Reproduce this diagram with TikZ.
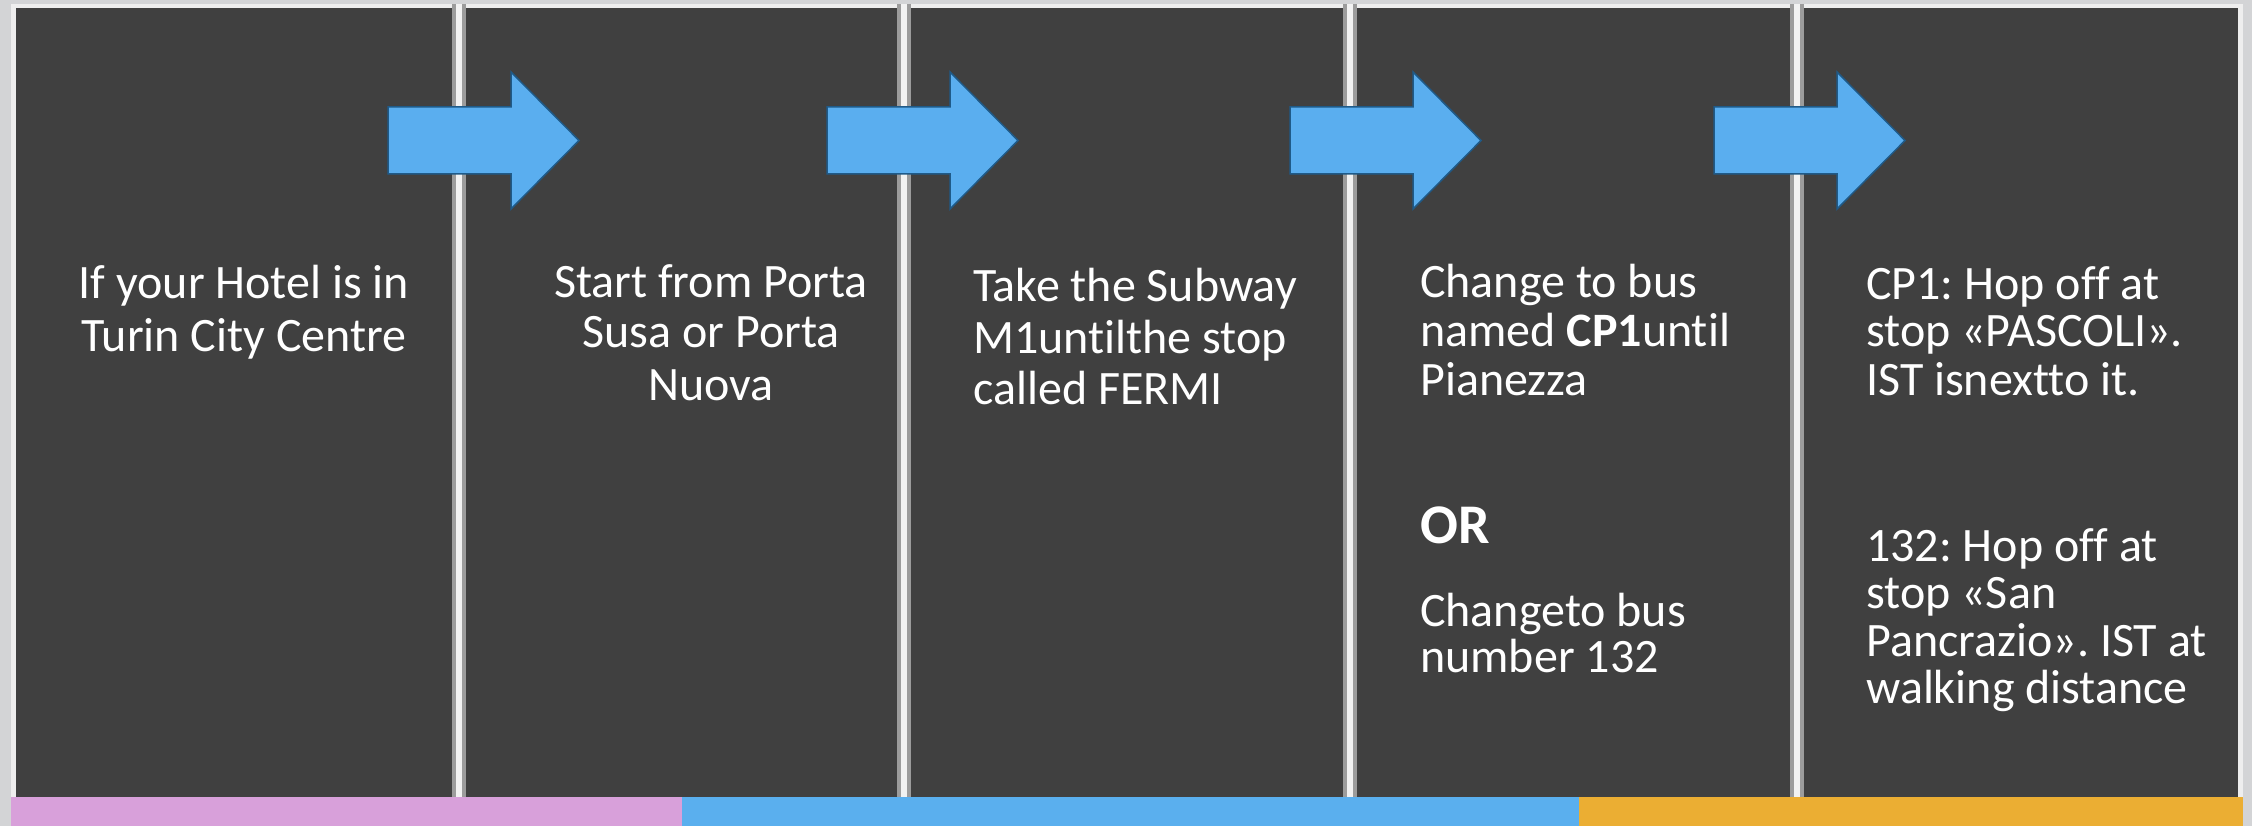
\documentclass[tikz,border=0pt]{standalone}
\usepackage{fontspec}
\setmainfont{Carlito}[Ligatures={NoCommon}]
\frenchspacing
\definecolor{panel}{HTML}{404040}
\definecolor{outer}{HTML}{D3D4D6}
\definecolor{frame}{HTML}{EEEEEE}
\definecolor{divgrey}{HTML}{9C9C9C}
\definecolor{divwhite}{HTML}{F2F2F2}
\definecolor{arrowfill}{HTML}{5AAEEF}
\definecolor{arrowline}{HTML}{1F5A88}
\definecolor{barpink}{HTML}{D8A0DA}
\definecolor{barblue}{HTML}{5AAFEE}
\definecolor{barorange}{HTML}{EBAE33}
\tikzset{
  txt/.style={text=white, inner sep=0pt, font=\fontsize{48}{51}\selectfont},
  ortxt/.style={text=white, inner sep=0pt, font=\fontsize{56}{60}\selectfont\bfseries},
  divider/.style={line width=14pt, draw=divgrey},
  dividercore/.style={line width=6pt, draw=divwhite},
  blockarrow/.pic={
    \fill[arrowfill, draw=arrowline, line width=1.5pt, line join=miter]
      (0,-33.5) -- (123,-33.5) -- (123,-68.5) -- (191,0) -- (123,68.5)
      -- (123,33.5) -- (0,33.5) -- cycle;
  }
}
\begin{document}
\begin{tikzpicture}[x=1pt, y=-1pt]
\useasboundingbox (0,0) rectangle (2252,826);
% background
\fill[outer] (0,0) rectangle (2252,826);
\fill[frame] (11,4) rectangle (2243,800);
\fill[panel] (16,8) rectangle (2238,797);
% dividers
\foreach \dx/\nm in {459/d1, 904/d2, 1350/d3, 1797/d4} {
  \coordinate (\nm top) at (\dx,4);
  \coordinate (\nm bot) at (\dx,797);
  \draw[divider] (\nm top) -- (\nm bot);
  \draw[dividercore] (\nm top) -- (\nm bot);
}
% bottom bar
\fill[barpink] (11,797) rectangle (682,826);
\fill[barblue] (682,797) rectangle (1579,826);
\fill[barorange] (1579,797) rectangle (2243,826);
% arrows
\pic (a1) at (388,140.5) {blockarrow};
\pic (a2) at (827,140.5) {blockarrow};
\pic (a3) at (1290,140.5) {blockarrow};
\pic (a4) at (1714,140.5) {blockarrow};
% panel 1
\node[txt, anchor=base] (p1a) at (244,299) {If your Hotel is in};
\node[txt, anchor=base] (p1b) at (244,352) {Turin City Centre};
% panel 2
\node[txt, anchor=base] (p2a) at (711,298) {Start from Porta};
\node[txt, anchor=base] (p2b) at (711,348) {Susa or Porta};
\node[txt, anchor=base] (p2c) at (711,400) {Nuova};
% panel 3
\node[txt, anchor=base west] (p3a) at (973,302) {Take the Subway};
\node[txt, anchor=base west] (p3b) at (973,354) {M1untilthe stop};
\node[txt, anchor=base west] (p3c) at (973,404) {called FERMI};
% panel 4
\node[txt, anchor=base west] (p4a) at (1420,298) {Change to bus};
\node[txt, anchor=base west] (p4b) at (1420,347) {named \textbf{CP1}until};
\node[txt, anchor=base west] (p4c) at (1420,395) {Pianezza};
\node[ortxt, anchor=base west] (p4or) at (1420,543) {OR};
\node[txt, anchor=base west] (p4d) at (1420,626) {Changeto bus};
\node[txt, anchor=base west] (p4e) at (1420,672) {number 132};
% panel 5
\node[txt, anchor=base west] (p5a) at (1866,300) {CP1: Hop off at};
\node[txt, anchor=base west] (p5b) at (1866,347) {stop «PASCOLI».};
\node[txt, anchor=base west] (p5c) at (1866,395) {IST isnextto it.};
\node[txt, anchor=base west] (p5d) at (1866,561) {132: Hop off at};
\node[txt, anchor=base west] (p5e) at (1866,608) {stop «San};
\node[txt, anchor=base west] (p5f) at (1866,656) {Pancrazio». IST at};
\node[txt, anchor=base west] (p5g) at (1866,703) {walking distance};
\end{tikzpicture}
\end{document}
